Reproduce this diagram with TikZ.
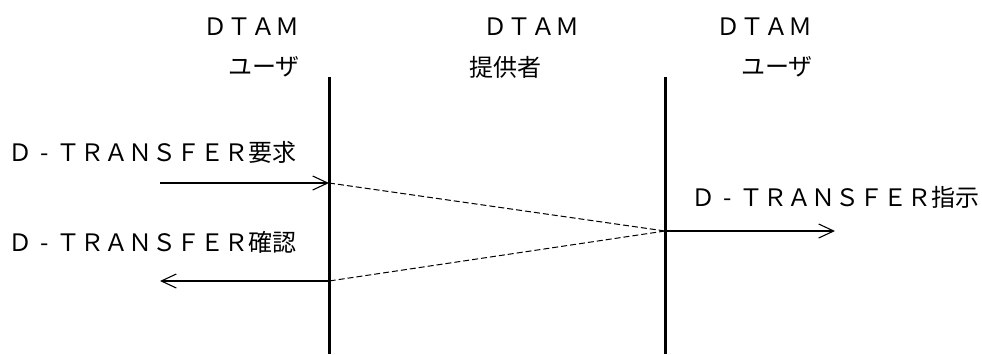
\documentclass[tikz,border=0pt]{standalone}
\usepackage{fontspec}
\newfontfamily\jp{Noto Sans CJK JP}
\usetikzlibrary{arrows.meta}
\newcommand{\hy}{\makebox[1em]{-}}
\tikzset{
  lbl/.style={inner sep=0pt,font=\jp\fontsize{24pt}{24pt}\selectfont},
  life/.style={line width=3pt},
  msg/.style={line width=1.1pt,-{Straight Barb[length=15pt,width=14pt,line width=1.1pt]}},
  link/.style={line width=1pt,dash pattern=on 6pt off 3pt}
}
\begin{document}
\begin{tikzpicture}[x=1pt,y=-1pt]
\useasboundingbox (0,0) rectangle (982,354);
% headers
\node[lbl,anchor=east] (h1a) at (300,27) {ＤＴＡＭ};
\node[lbl,anchor=east] (h1b) at (300,67) {ユーザ};
\node[lbl,anchor=east] (h2a) at (580,27) {ＤＴＡＭ};
\node[lbl,anchor=east] (h2b) at (542,67) {提供者};
\node[lbl,anchor=east] (h3a) at (813,27) {ＤＴＡＭ};
\node[lbl,anchor=east] (h3b) at (813,67) {ユーザ};
% lifelines
\coordinate (l1t) at (329,77);
\coordinate (l1b) at (329,354);
\coordinate (l2t) at (665,77);
\coordinate (l2b) at (665,354);
\draw[life] (l1t) -- (l1b);
\draw[life] (l2t) -- (l2b);
% messages
\coordinate (r0) at (160,183);
\coordinate (r1) at (329,183);
\coordinate (i0) at (665,231);
\coordinate (i1) at (835,231);
\coordinate (c0) at (329,281);
\coordinate (c1) at (160,281);
\draw[msg] (r0) -- (r1);
\draw[link] (r1) -- (i0);
\draw[msg] (i0) -- (i1);
\draw[link] (i0) -- (c0);
\draw[msg] (c0) -- (c1);
% labels
\node[lbl,anchor=west] (lr) at (8,152) {Ｄ\hy ＴＲＡＮＳＦＥＲ要求};
\node[lbl,anchor=west] (lc) at (8,242) {Ｄ\hy ＴＲＡＮＳＦＥＲ確認};
\node[lbl,anchor=west] (li) at (691,197) {Ｄ\hy ＴＲＡＮＳＦＥＲ指示};
\end{tikzpicture}
\end{document}
